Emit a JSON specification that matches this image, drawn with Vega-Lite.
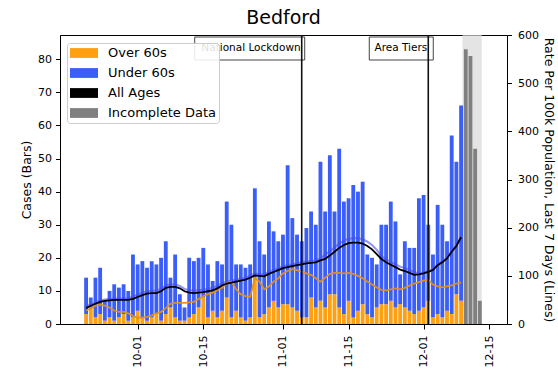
{
  "$schema": "https://vega.github.io/schema/vega-lite/v6.json",
  "width": 447,
  "height": 289,
  "autosize": "none",
  "padding": {"left": 60, "top": 35, "right": 51, "bottom": 53},
  "background": "white",
  "title": {"text": "Bedford", "fontSize": 19, "font": "DejaVu Sans", "fontWeight": "normal", "color": "black", "offset": 1, "anchor": "middle"},
  "config": {
    "view": {"stroke": "black", "strokeWidth": 1},
    "font": "DejaVu Sans",
    "axis": {"labelFont": "DejaVu Sans", "titleFont": "DejaVu Sans", "titleFontWeight": "normal", "domainColor": "black", "tickColor": "black", "labelColor": "black", "titleColor": "black", "grid": false}
  },
  "datasets": {
    "cases": [
      {"d": "2020-09-20", "Over 60s": 3, "Under 60s": 11},
      {"d": "2020-09-21", "Over 60s": 5, "Under 60s": 3},
      {"d": "2020-09-22", "Over 60s": 2, "Under 60s": 12},
      {"d": "2020-09-23", "Over 60s": 3, "Under 60s": 14},
      {"d": "2020-09-24", "Over 60s": 1, "Under 60s": 6},
      {"d": "2020-09-25", "Over 60s": 2, "Under 60s": 8},
      {"d": "2020-09-26", "Over 60s": 1, "Under 60s": 11},
      {"d": "2020-09-27", "Over 60s": 2, "Under 60s": 9},
      {"d": "2020-09-28", "Over 60s": 3, "Under 60s": 9},
      {"d": "2020-09-29", "Over 60s": 1, "Under 60s": 9},
      {"d": "2020-09-30", "Over 60s": 2, "Under 60s": 19},
      {"d": "2020-10-01", "Over 60s": 4, "Under 60s": 14},
      {"d": "2020-10-02", "Over 60s": 2, "Under 60s": 17},
      {"d": "2020-10-03", "Over 60s": 1, "Under 60s": 16},
      {"d": "2020-10-04", "Over 60s": 2, "Under 60s": 17},
      {"d": "2020-10-05", "Over 60s": 3, "Under 60s": 15},
      {"d": "2020-10-06", "Over 60s": 1, "Under 60s": 19},
      {"d": "2020-10-07", "Over 60s": 3, "Under 60s": 22},
      {"d": "2020-10-08", "Over 60s": 5, "Under 60s": 9},
      {"d": "2020-10-09", "Over 60s": 2, "Under 60s": 19},
      {"d": "2020-10-10", "Over 60s": 1, "Under 60s": 8},
      {"d": "2020-10-11", "Over 60s": 1, "Under 60s": 4},
      {"d": "2020-10-12", "Over 60s": 2, "Under 60s": 18},
      {"d": "2020-10-13", "Over 60s": 3, "Under 60s": 16},
      {"d": "2020-10-14", "Over 60s": 5, "Under 60s": 15},
      {"d": "2020-10-15", "Over 60s": 8, "Under 60s": 15},
      {"d": "2020-10-16", "Over 60s": 2, "Under 60s": 16},
      {"d": "2020-10-17", "Over 60s": 4, "Under 60s": 9},
      {"d": "2020-10-18", "Over 60s": 2, "Under 60s": 17},
      {"d": "2020-10-19", "Over 60s": 4, "Under 60s": 14},
      {"d": "2020-10-20", "Over 60s": 8, "Under 60s": 29},
      {"d": "2020-10-21", "Over 60s": 2, "Under 60s": 28},
      {"d": "2020-10-22", "Over 60s": 4, "Under 60s": 14},
      {"d": "2020-10-23", "Over 60s": 2, "Under 60s": 16},
      {"d": "2020-10-24", "Over 60s": 1, "Under 60s": 16},
      {"d": "2020-10-25", "Over 60s": 2, "Under 60s": 16},
      {"d": "2020-10-26", "Over 60s": 14, "Under 60s": 27},
      {"d": "2020-10-27", "Over 60s": 2, "Under 60s": 23},
      {"d": "2020-10-28", "Over 60s": 3, "Under 60s": 18},
      {"d": "2020-10-29", "Over 60s": 5, "Under 60s": 26},
      {"d": "2020-10-30", "Over 60s": 7, "Under 60s": 21},
      {"d": "2020-10-31", "Over 60s": 5, "Under 60s": 20},
      {"d": "2020-11-01", "Over 60s": 6, "Under 60s": 21},
      {"d": "2020-11-02", "Over 60s": 6, "Under 60s": 42},
      {"d": "2020-11-03", "Over 60s": 5, "Under 60s": 27},
      {"d": "2020-11-04", "Over 60s": 4, "Under 60s": 23},
      {"d": "2020-11-05", "Over 60s": 2, "Under 60s": 23},
      {"d": "2020-11-06", "Over 60s": 2, "Under 60s": 27},
      {"d": "2020-11-07", "Over 60s": 8, "Under 60s": 26},
      {"d": "2020-11-08", "Over 60s": 5, "Under 60s": 25},
      {"d": "2020-11-09", "Over 60s": 7, "Under 60s": 42},
      {"d": "2020-11-10", "Over 60s": 5, "Under 60s": 29},
      {"d": "2020-11-11", "Over 60s": 9, "Under 60s": 42},
      {"d": "2020-11-12", "Over 60s": 9, "Under 60s": 25},
      {"d": "2020-11-13", "Over 60s": 5, "Under 60s": 48},
      {"d": "2020-11-14", "Over 60s": 3, "Under 60s": 34},
      {"d": "2020-11-15", "Over 60s": 7, "Under 60s": 31},
      {"d": "2020-11-16", "Over 60s": 2, "Under 60s": 40},
      {"d": "2020-11-17", "Over 60s": 4, "Under 60s": 36},
      {"d": "2020-11-18", "Over 60s": 6, "Under 60s": 37},
      {"d": "2020-11-19", "Over 60s": 3, "Under 60s": 18},
      {"d": "2020-11-20", "Over 60s": 2, "Under 60s": 18},
      {"d": "2020-11-21", "Over 60s": 5, "Under 60s": 13},
      {"d": "2020-11-22", "Over 60s": 6, "Under 60s": 24},
      {"d": "2020-11-23", "Over 60s": 6, "Under 60s": 24},
      {"d": "2020-11-24", "Over 60s": 7, "Under 60s": 30},
      {"d": "2020-11-25", "Over 60s": 5, "Under 60s": 26},
      {"d": "2020-11-26", "Over 60s": 6, "Under 60s": 9},
      {"d": "2020-11-27", "Over 60s": 5, "Under 60s": 20},
      {"d": "2020-11-28", "Over 60s": 4, "Under 60s": 19},
      {"d": "2020-11-29", "Over 60s": 3, "Under 60s": 20},
      {"d": "2020-11-30", "Over 60s": 4, "Under 60s": 34},
      {"d": "2020-12-01", "Over 60s": 5, "Under 60s": 34},
      {"d": "2020-12-02", "Over 60s": 7, "Under 60s": 23},
      {"d": "2020-12-03", "Over 60s": 2, "Under 60s": 19},
      {"d": "2020-12-04", "Over 60s": 3, "Under 60s": 33},
      {"d": "2020-12-05", "Over 60s": 2, "Under 60s": 28},
      {"d": "2020-12-06", "Over 60s": 4, "Under 60s": 21},
      {"d": "2020-12-07", "Over 60s": 3, "Under 60s": 54},
      {"d": "2020-12-08", "Over 60s": 9, "Under 60s": 40},
      {"d": "2020-12-09", "Over 60s": 7, "Under 60s": 59},
      {"d": "2020-12-10", "Incomplete Data": 83},
      {"d": "2020-12-11", "Incomplete Data": 81},
      {"d": "2020-12-12", "Incomplete Data": 53},
      {"d": "2020-12-13", "Incomplete Data": 7}
    ],
    "rates": [
      {"d": "2020-09-20", "a": 33, "o": 28, "u": 36},
      {"d": "2020-09-21", "a": 38, "o": 32, "u": 41},
      {"d": "2020-09-22", "a": 42, "o": 38, "u": 45},
      {"d": "2020-09-23", "a": 46, "o": 40, "u": 49},
      {"d": "2020-09-24", "a": 48, "o": 38, "u": 51},
      {"d": "2020-09-25", "a": 49, "o": 34, "u": 52},
      {"d": "2020-09-26", "a": 50, "o": 28, "u": 53},
      {"d": "2020-09-27", "a": 50, "o": 25, "u": 53},
      {"d": "2020-09-28", "a": 50, "o": 25, "u": 53},
      {"d": "2020-09-29", "a": 50, "o": 22, "u": 53},
      {"d": "2020-09-30", "a": 52, "o": 17, "u": 57},
      {"d": "2020-10-01", "a": 56, "o": 13, "u": 61},
      {"d": "2020-10-02", "a": 60, "o": 13, "u": 65},
      {"d": "2020-10-03", "a": 63, "o": 15, "u": 68},
      {"d": "2020-10-04", "a": 64, "o": 18, "u": 69},
      {"d": "2020-10-05", "a": 64, "o": 22, "u": 69},
      {"d": "2020-10-06", "a": 68, "o": 25, "u": 73},
      {"d": "2020-10-07", "a": 75, "o": 33, "u": 80},
      {"d": "2020-10-08", "a": 77, "o": 42, "u": 82},
      {"d": "2020-10-09", "a": 77, "o": 44, "u": 82},
      {"d": "2020-10-10", "a": 74, "o": 44, "u": 79},
      {"d": "2020-10-11", "a": 68, "o": 44, "u": 73},
      {"d": "2020-10-12", "a": 65, "o": 45, "u": 70},
      {"d": "2020-10-13", "a": 64, "o": 46, "u": 69},
      {"d": "2020-10-14", "a": 65, "o": 52, "u": 70},
      {"d": "2020-10-15", "a": 66, "o": 58, "u": 71},
      {"d": "2020-10-16", "a": 68, "o": 62, "u": 73},
      {"d": "2020-10-17", "a": 70, "o": 65, "u": 75},
      {"d": "2020-10-18", "a": 74, "o": 70, "u": 79},
      {"d": "2020-10-19", "a": 80, "o": 75, "u": 85},
      {"d": "2020-10-20", "a": 84, "o": 85, "u": 88},
      {"d": "2020-10-21", "a": 86, "o": 88, "u": 90},
      {"d": "2020-10-22", "a": 88, "o": 72, "u": 92},
      {"d": "2020-10-23", "a": 90, "o": 62, "u": 94},
      {"d": "2020-10-24", "a": 92, "o": 58, "u": 96},
      {"d": "2020-10-25", "a": 96, "o": 56, "u": 100},
      {"d": "2020-10-26", "a": 101, "o": 95, "u": 105},
      {"d": "2020-10-27", "a": 100, "o": 88, "u": 104},
      {"d": "2020-10-28", "a": 99, "o": 72, "u": 103},
      {"d": "2020-10-29", "a": 104, "o": 78, "u": 108},
      {"d": "2020-10-30", "a": 108, "o": 88, "u": 112},
      {"d": "2020-10-31", "a": 112, "o": 95, "u": 116},
      {"d": "2020-11-01", "a": 116, "o": 105, "u": 120},
      {"d": "2020-11-02", "a": 118, "o": 110, "u": 122},
      {"d": "2020-11-03", "a": 120, "o": 114, "u": 124},
      {"d": "2020-11-04", "a": 122, "o": 112, "u": 126},
      {"d": "2020-11-05", "a": 124, "o": 108, "u": 128},
      {"d": "2020-11-06", "a": 126, "o": 105, "u": 130},
      {"d": "2020-11-07", "a": 127, "o": 102, "u": 131},
      {"d": "2020-11-08", "a": 128, "o": 95, "u": 132},
      {"d": "2020-11-09", "a": 132, "o": 88, "u": 136},
      {"d": "2020-11-10", "a": 135, "o": 96, "u": 144},
      {"d": "2020-11-11", "a": 142, "o": 104, "u": 151},
      {"d": "2020-11-12", "a": 150, "o": 106, "u": 159},
      {"d": "2020-11-13", "a": 158, "o": 106, "u": 167},
      {"d": "2020-11-14", "a": 164, "o": 105, "u": 173},
      {"d": "2020-11-15", "a": 168, "o": 106, "u": 177},
      {"d": "2020-11-16", "a": 169, "o": 104, "u": 178},
      {"d": "2020-11-17", "a": 169, "o": 100, "u": 178},
      {"d": "2020-11-18", "a": 167, "o": 95, "u": 176},
      {"d": "2020-11-19", "a": 162, "o": 88, "u": 171},
      {"d": "2020-11-20", "a": 155, "o": 82, "u": 164},
      {"d": "2020-11-21", "a": 145, "o": 76, "u": 154},
      {"d": "2020-11-22", "a": 135, "o": 71, "u": 141},
      {"d": "2020-11-23", "a": 128, "o": 70, "u": 134},
      {"d": "2020-11-24", "a": 123, "o": 72, "u": 129},
      {"d": "2020-11-25", "a": 118, "o": 74, "u": 124},
      {"d": "2020-11-26", "a": 113, "o": 72, "u": 119},
      {"d": "2020-11-27", "a": 110, "o": 75, "u": 116},
      {"d": "2020-11-28", "a": 106, "o": 80, "u": 112},
      {"d": "2020-11-29", "a": 102, "o": 84, "u": 108},
      {"d": "2020-11-30", "a": 103, "o": 87, "u": 105},
      {"d": "2020-12-01", "a": 105, "o": 90, "u": 107},
      {"d": "2020-12-02", "a": 108, "o": 92, "u": 110},
      {"d": "2020-12-03", "a": 112, "o": 82, "u": 114},
      {"d": "2020-12-04", "a": 122, "o": 78, "u": 124},
      {"d": "2020-12-05", "a": 128, "o": 76, "u": 130},
      {"d": "2020-12-06", "a": 136, "o": 78, "u": 138},
      {"d": "2020-12-07", "a": 150, "o": 80, "u": 152},
      {"d": "2020-12-08", "a": 162, "o": 84, "u": 164},
      {"d": "2020-12-09", "a": 180, "o": 86, "u": 181}
    ],
    "evts": [
      {"d": "2020-11-05", "label": "National Lockdown"},
      {"d": "2020-12-02", "label": "Area Tiers"}
    ],
    "incomplete": [
      {"start": "2020-12-09T07:00:00Z", "end": "2020-12-13T10:00:00Z"}
    ]
  },
  "layer": [
    {
      "data": {"name": "incomplete"},
      "mark": {"type": "rect", "fill": "#d9d9d9", "opacity": 0.7},
      "encoding": {
        "x": {"field": "start", "type": "temporal", "scale": {"type": "utc", "domain": ["2020-09-15T12:00:00Z", "2020-12-17T17:30:00Z"]}},
        "x2": {"field": "end"}
      }
    },
    {
      "data": {"name": "evts"},
      "encoding": {
        "x": {"field": "d", "type": "temporal"},
        "y": {"datum": 600, "type": "quantitative", "scale": {"domain": [0, 600], "nice": false}, "axis": null}
      },
      "layer": [
        {
          "transform": [{"filter": "datum.label == 'National Lockdown'"}],
          "mark": {"type": "rect", "fill": "white", "fillOpacity": 0.85, "stroke": "#444444", "strokeWidth": 1, "xOffset": -107, "x2Offset": 3, "yOffset": 2, "y2Offset": 25},
          "encoding": {"x2": {"field": "d"}, "y2": {"datum": 600}}
        },
        {
          "transform": [{"filter": "datum.label == 'Area Tiers'"}],
          "mark": {"type": "rect", "fill": "white", "fillOpacity": 0.85, "stroke": "#444444", "strokeWidth": 1, "xOffset": -59, "x2Offset": 5, "yOffset": 2, "y2Offset": 25},
          "encoding": {"x2": {"field": "d"}, "y2": {"datum": 600}}
        },
        {
          "mark": {"type": "text", "align": "right", "baseline": "middle", "dx": -1, "dy": 13, "fontSize": 10.5, "font": "DejaVu Sans", "color": "black"},
          "encoding": {"text": {"field": "label"}}
        }
      ]
    },
    {
      "data": {"name": "cases"},
      "transform": [
        {"fold": ["Over 60s", "Under 60s", "Incomplete Data"], "as": ["grp", "n"]},
        {"filter": "isValid(datum.n)"}
      ],
      "mark": {"type": "bar", "width": 3.84},
      "encoding": {
        "x": {
          "field": "d", "type": "temporal",
          "scale": {"type": "utc", "domain": ["2020-09-15T12:00:00Z", "2020-12-17T17:30:00Z"]},
          "axis": {
            "title": null,
            "values": [
              {"year": 2020, "month": 10, "date": 1, "utc": true},
              {"year": 2020, "month": 10, "date": 15, "utc": true},
              {"year": 2020, "month": 11, "date": 1, "utc": true},
              {"year": 2020, "month": 11, "date": 15, "utc": true},
              {"year": 2020, "month": 12, "date": 1, "utc": true},
              {"year": 2020, "month": 12, "date": 15, "utc": true}
            ],
            "format": "%m-%d",
            "labelAngle": 270,
            "labelFontSize": 11,
            "tickSize": 5,
            "labelPadding": 6
          }
        },
        "y": {
          "field": "n", "type": "quantitative", "stack": "zero",
          "scale": {"domain": [0, 87.34], "nice": false},
          "axis": {"title": "Cases (Bars)", "values": [0, 10, 20, 30, 40, 50, 60, 70, 80], "labelFontSize": 11, "titleFontSize": 12.5, "tickSize": 4.5, "labelPadding": 4, "titlePadding": 4}
        },
        "color": {
          "field": "grp", "type": "nominal",
          "scale": {"domain": ["Over 60s", "Under 60s", "All Ages", "Incomplete Data"], "range": ["#ffa010", "#3a5ef7", "#000000", "#808080"]},
          "legend": {
            "title": null, "orient": "none", "legendX": 7, "legendY": 8, "zindex": 5,
            "fillColor": "rgba(255,255,255,0.88)", "strokeColor": "#cccccc", "cornerRadius": 3, "padding": 3,
            "labelFontSize": 13, "labelColor": "black", "labelFont": "DejaVu Sans",
            "symbolType": "M-1,-0.7H3V0.7H-1Z", "symbolSize": 196, "symbolStrokeWidth": 0, "symbolOpacity": 1,
            "rowPadding": 6, "labelOffset": 24
          }
        },
        "order": {"field": "grp", "sort": "ascending"}
      }
    },
    {
      "data": {"name": "rates"},
      "transform": [{"fold": ["u", "o", "a"], "as": ["s", "v"]}],
      "encoding": {
        "x": {"field": "d", "type": "temporal", "scale": {"type": "utc", "domain": ["2020-09-15T12:00:00Z", "2020-12-17T17:30:00Z"]}},
        "y": {
          "field": "v", "type": "quantitative",
          "scale": {"domain": [0, 600], "nice": false},
          "axis": {"orient": "right", "title": "Rate Per 100k Population, Last 7 Days (Lines)", "values": [0, 100, 200, 300, 400, 500, 600], "labelFontSize": 11, "titleFontSize": 12.5, "tickSize": 4.5, "labelPadding": 6, "titlePadding": 3}
        }
      },
      "layer": [
        {"transform": [{"filter": "datum.s == 'u'"}], "mark": {"type": "line", "color": "#4a4ae6", "strokeWidth": 2, "opacity": 0.6}},
        {"transform": [{"filter": "datum.s == 'o'"}], "mark": {"type": "line", "color": "#e0901c", "strokeWidth": 1.8, "opacity": 0.95}},
        {"transform": [{"filter": "datum.s == 'a'"}], "mark": {"type": "line", "color": "#000000", "strokeWidth": 1.8}}
      ]
    },
    {
      "data": {"name": "evts"},
      "mark": {"type": "rule", "color": "#111111", "strokeWidth": 1.6},
      "encoding": {"x": {"field": "d", "type": "temporal"}}
    }
  ],
  "resolve": {"scale": {"y": "independent"}}
}
